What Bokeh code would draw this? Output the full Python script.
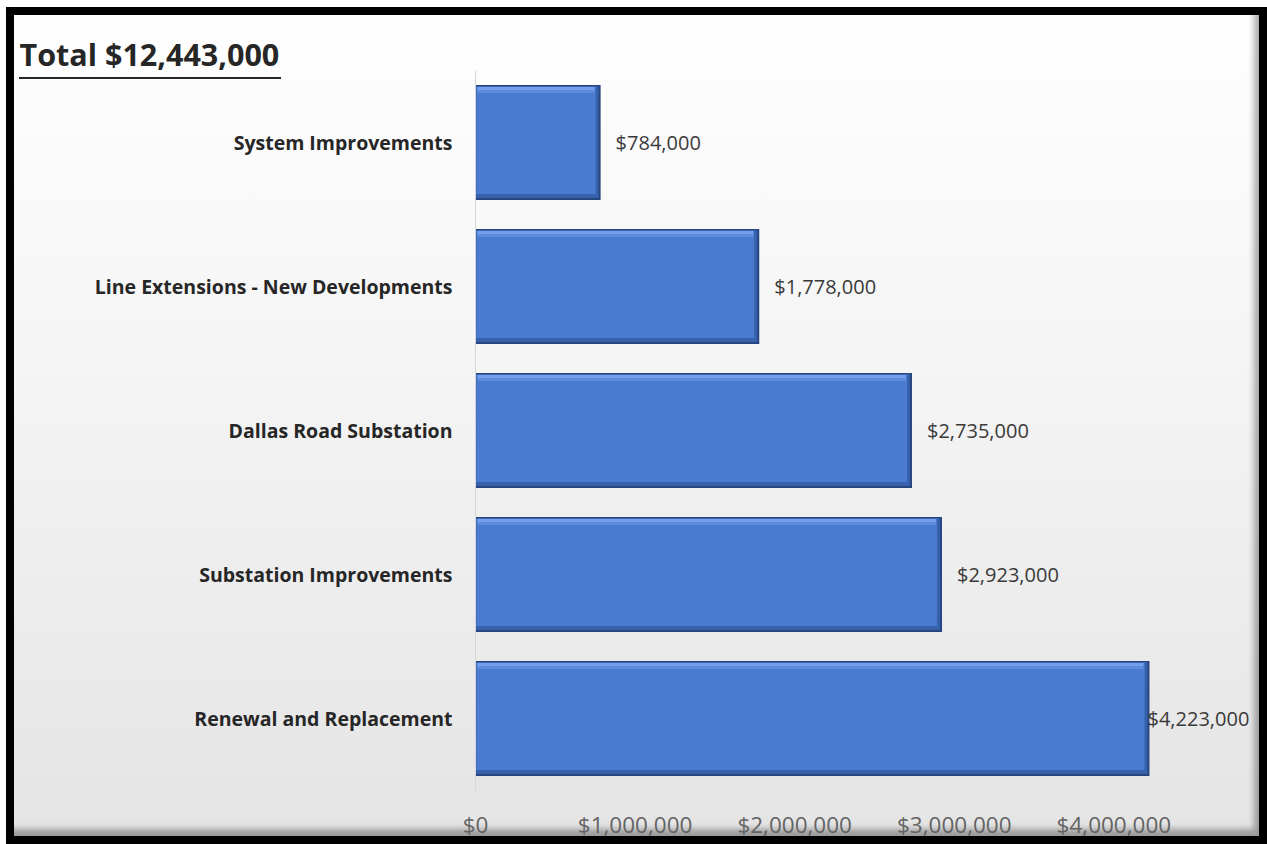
import numpy as np
from bokeh.plotting import figure
from bokeh.models import (FactorRange, Range1d, ColumnDataSource, FixedTicker,
                          NumeralTickFormatter)
from bokeh.transform import dodge
from bokeh.core.properties import value
from bokeh.embed import file_html
from bokeh.resources import INLINE

# ---------------- data ----------------
categories = ["System Improvements",
              "Line Extensions - New Developments",
              "Dallas Road Substation",
              "Substation Improvements",
              "Renewal and Replacement"]
amounts = [784000, 1778000, 2735000, 2923000, 4223000]
x_ticks = [0, 1000000, 2000000, 3000000, 4000000]
title_text = "Total $12,443,000"

# ---------------- layout ----------------
W, H = 1261, 837                       # canvas size (border drawn as inset shadow)
ML, MT, MB = 469, 63, 54
x_end = 4900000
frame_w = 782
MR = W - ML - frame_w
frame_h = H - MT - MB
px_x = x_end / frame_w                 # data units per pixel (x)
n = len(categories)
px_y = n / frame_h                     # category units per pixel (y)
bar_h = 0.8
FONT = "Open Sans"

amt = np.array(amounts, dtype=float)
labels = [f"${v:,.0f}" for v in amounts]
# Excel pulls a label inward when it would overflow the chart area
max_label_x = 672 * px_x
label_x = np.minimum(amt + 15 * px_x, max_label_x)

src = ColumnDataSource(dict(
    cat=categories, amt=amt,
    amt_r2=amt - 2 * px_x, amt_r5=amt - 5 * px_x, amt_r6=amt - 6 * px_x,
    lx=label_x, lbl=labels,
))

css_bg = ("linear-gradient(#262626, #262626) 13px 70px / 262px 2px no-repeat, "
          "linear-gradient(to bottom, #ffffff 0%, #f4f4f4 45%, #e4e4e4 100%)")
css_shadow = ("inset 0 0 0 8px #000000, "
              "inset -18px -20px 6px -5px rgba(0,0,0,0.32)")

p = figure(width=W, height=H,
           y_range=FactorRange(factors=categories[::-1], range_padding=0),
           x_range=Range1d(0, x_end),
           output_backend="svg", toolbar_location=None,
           min_border_left=ML, min_border_right=MR,
           min_border_top=MT, min_border_bottom=MB,
           styles={"margin-left": "6px", "margin-top": "7px",
                   "background": css_bg,
                   "box-shadow": css_shadow})

p.background_fill_alpha = 0
p.border_fill_alpha = 0
p.outline_line_color = None
p.xgrid.visible = False
p.ygrid.visible = False

# title
p.title.text = title_text
p.title.align = "left"
p.title.offset = -(ML - 13)
p.title.standoff = -8
p.title.text_font = FONT
p.title.text_font_size = "30.5px"
p.title.text_font_style = "bold"
p.title.text_color = "#262626"


def strip(top_px, bot_px):
    """vertical strip of the bar, measured in px down from the bar top"""
    top = bar_h / 2 - top_px * px_y
    bot = bar_h / 2 - bot_px * px_y
    return (top + bot) / 2, top - bot


bar_px = bar_h / px_y

# base (dark edge)
p.hbar(y="cat", height=bar_h, left=0, right="amt", source=src,
       fill_color="#27457f", line_color=None)
# mid shade
c, h = strip(1, bar_px - 2)
p.hbar(y=dodge("cat", c, range=p.y_range), height=h, left=0, right="amt_r2",
       source=src, fill_color="#3561ad", line_color=None)
# main body
c, h = strip(2, bar_px - 6)
p.hbar(y=dodge("cat", c, range=p.y_range), height=h, left=px_x, right="amt_r5",
       source=src, fill_color="#4a7bd1", line_color=None)
# top highlight
c, h = strip(2, 5)
p.hbar(y=dodge("cat", c, range=p.y_range), height=h, left=px_x * 2, right="amt_r6",
       source=src, fill_color="#74a0ec", line_color=None)
c, h = strip(5, 8)
p.hbar(y=dodge("cat", c, range=p.y_range), height=h, left=px_x * 2, right="amt_r6",
       source=src, fill_color="#5e8cdd", line_color=None)

# value labels
p.text(x="lx", y="cat", text="lbl", source=src,
       text_font=value(FONT), text_font_size="20px", text_color="#3a3a3a",
       text_baseline="middle", text_align="left")

# axes
p.yaxis.axis_line_color = "#d3d6dc"
p.yaxis.major_tick_line_color = None
p.yaxis.minor_tick_line_color = None
p.yaxis.major_label_standoff = 17
p.yaxis.major_label_text_font = FONT
p.yaxis.major_label_text_font_size = "19.5px"
p.yaxis.major_label_text_font_style = "bold"
p.yaxis.major_label_text_color = "#262626"

p.xaxis.ticker = FixedTicker(ticks=x_ticks)
p.xaxis.formatter = NumeralTickFormatter(format="$0,0")
p.xaxis.axis_line_color = None
p.xaxis.major_tick_line_color = None
p.xaxis.minor_tick_line_color = None
p.xaxis.major_label_standoff = 12
p.xaxis.major_label_text_font = FONT
p.xaxis.major_label_text_font_size = "22.5px"
p.xaxis.major_label_text_color = "#636363"

open("out.html", "w").write(file_html(p, INLINE))
